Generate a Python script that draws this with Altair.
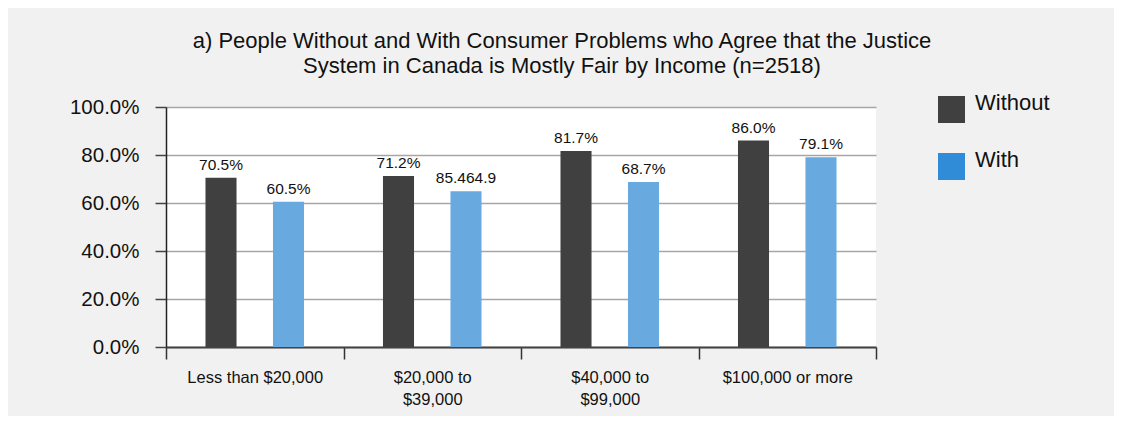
import altair as alt
import pandas as pd

incomes = ["Less than $20,000", "$20,000 to $39,000", "$40,000 to $99,000", "$100,000 or more"]
groups = ["Without", "With"]
without_vals = [70.5, 71.2, 81.7, 86.0]
with_vals = [60.5, 64.9, 68.7, 79.1]
without_labels = ["70.5%", "71.2%", "81.7%", "86.0%"]
with_labels = ["60.5%", "85.464.9", "68.7%", "79.1%"]
y_ticks = [0, 20, 40, 60, 80, 100]
title_lines = [
    "a) People Without and With Consumer Problems who Agree that the Justice",
    "System in Canada is Mostly Fair by Income (n=2518)",
]

bar_colors = ["#404040", "#68aadf"]
legend_colors = ["#404040", "#308cd6"]

rows = []
for i, inc in enumerate(incomes):
    rows.append({"Income": inc, "Group": "Without", "Value": without_vals[i], "Label": without_labels[i]})
    rows.append({"Income": inc, "Group": "With", "Value": with_vals[i], "Label": with_labels[i]})
df = pd.DataFrame(rows)

FONT = "Liberation Sans"

label_expr = ("indexof(datum.label, ' to ') > 0 ? "
              "[substring(datum.label, 0, indexof(datum.label, ' to ') + 3), "
              "substring(datum.label, indexof(datum.label, ' to ') + 4)] : datum.label")

x_enc = alt.X("Income:N", sort=incomes, title=None,
              scale=alt.Scale(paddingInner=0, paddingOuter=0),
              axis=alt.Axis(labelExpr=label_expr, labelAngle=0, tickBand="extent",
                            grid=False, domainColor="#444444", domainWidth=2,
                            tickColor="#333333", tickWidth=1.5, tickSize=12,
                            labelFontSize=16.5, labelPadding=10, labelLineHeight=22,
                            labelColor="#111111", labelFont=FONT))
xo_enc = alt.XOffset("Group:N", sort=groups,
                     scale=alt.Scale(paddingInner=0.54, paddingOuter=0.585))
y_enc = alt.Y("Value:Q", title=None,
              scale=alt.Scale(domain=[0, 100], nice=False),
              axis=alt.Axis(values=y_ticks, labelExpr="format(datum.value, '.1f') + '%'",
                            domainColor="#222222", domainWidth=1.5,
                            tickColor="#444444", tickWidth=1.5, tickSize=11,
                            gridColor="#a6a6a6", gridWidth=1.5,
                            labelFontSize=20.5, labelPadding=16, labelColor="#111111",
                            labelFont=FONT))

bars = alt.Chart(df).mark_bar().encode(
    x=x_enc, xOffset=xo_enc, y=y_enc,
    fill=alt.Fill("Group:N", sort=groups,
                  scale=alt.Scale(domain=groups, range=bar_colors), legend=None),
)

texts = alt.Chart(df).mark_text(baseline="bottom", dy=-5, fontSize=15.5, font=FONT,
                                color="#111111").encode(
    x=alt.X("Income:N", sort=incomes), xOffset=alt.XOffset("Group:N", sort=groups),
    y="Value:Q", text="Label:N",
)

legend_layer = alt.Chart(df).mark_square(size=0).encode(
    x=alt.X("Income:N", sort=incomes), xOffset=alt.XOffset("Group:N", sort=groups),
    y="Value:Q",
    color=alt.Color("Group:N", sort=groups,
                    scale=alt.Scale(domain=groups, range=legend_colors),
                    legend=alt.Legend(title=None, orient="none", legendX=772, legendY=-11,
                                      symbolType="square", symbolSize=729, symbolOpacity=1,
                                      symbolStrokeWidth=0, labelFontSize=22, labelFont=FONT,
                                      labelColor="#111111", labelOffset=10, rowPadding=25,
                                      padding=0, labelBaseline="alphabetic")),
)

chart = alt.layer(bars, texts, legend_layer).resolve_scale(fill="independent", color="independent").properties(
    width=710, height=240,
    autosize=alt.AutoSizeParams(type="none"),
    padding={"left": 158, "top": 99, "right": 238, "bottom": 69},
    background="#f1f1f1",
    title=alt.TitleParams(text=title_lines, fontSize=22, fontWeight="normal",
                          font=FONT, color="#111111", anchor="middle", dx=41,
                          offset=18, lineHeight=25),
).configure_view(fill="white", stroke=None)

chart.save("out.html", embed_options={"renderer": "svg", "actions": False})
